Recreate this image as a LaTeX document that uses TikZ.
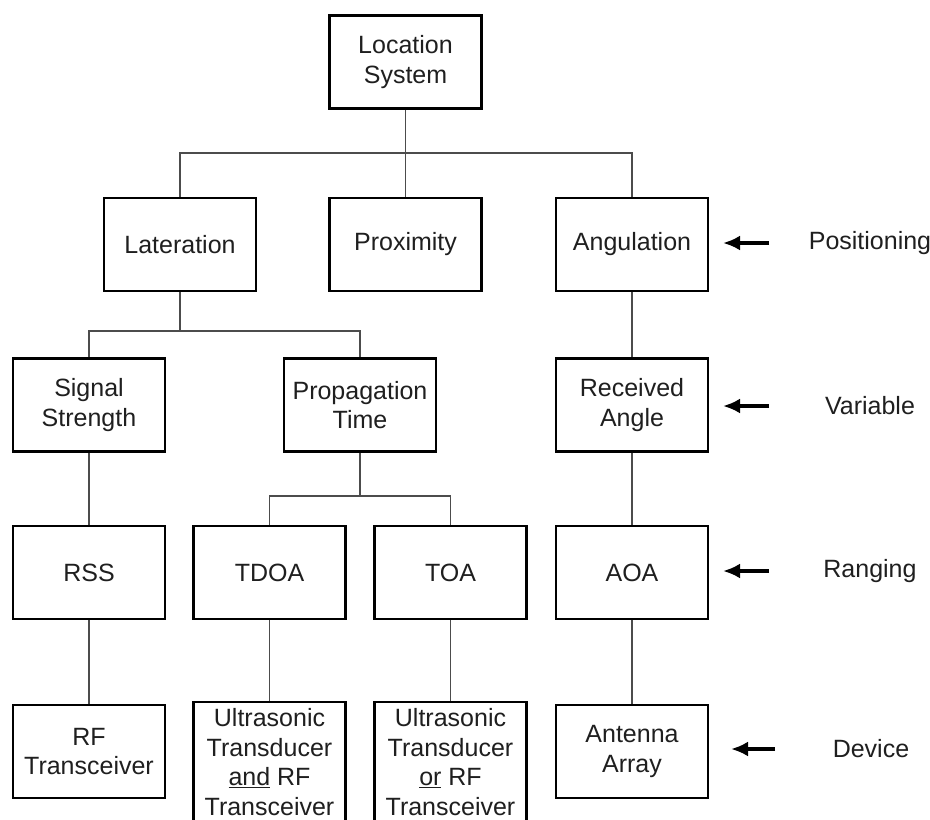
\documentclass[tikz,border=0pt]{standalone}
\usepackage{fontspec}
\setmainfont{Liberation Sans}
\usepackage{tikz}
\usetikzlibrary{arrows.meta, calc}
\definecolor{boxText}{rgb}{0.12, 0.12, 0.12}
\definecolor{linkGray}{rgb}{0.30, 0.30, 0.30}

\begin{document}
\begin{tikzpicture}[x=1pt, y=-1pt,
	box/.style={draw=black, line width=2.8pt, minimum width=152pt, minimum height=93pt, inner sep=0pt, align=center, text=boxText, font=\fontsize{25}{29.5}\selectfont},
	tallbox/.style={box, minimum height=120pt},
	link/.style={draw=linkGray, line width=1.4pt},
	pointer/.style={line width=3.4pt, -{Latex[length=17pt, width=15pt]}},
	level/.style={text=boxText, font=\fontsize{25}{29.5}\selectfont}]

	\clip (0,0) rectangle (930,820);
	\fill[white] (0,0) rectangle (930,820);

	\node[box] (loc) at (405.5,62) {Location\\System};

	\node[box] (lat) at (180,244.5) {Lateration};
	\node[box] (prox) at (405.5,244.5) {Proximity};
	\node[box] (ang) at (632,244.5) {Angulation};

	\node[box] (ss) at (89,405) {Signal\\Strength};
	\node[box] (pt) at (360,405) {Propagation\\Time};
	\node[box] (ra) at (632,405) {Received\\Angle};

	\node[box] (rss) at (89,572.5) {RSS};
	\node[box] (tdoa) at (269.5,572.5) {TDOA};
	\node[box] (toa) at (450.5,572.5) {TOA};
	\node[box] (aoa) at (632,572.5) {AOA};

	\node[box] (rf) at (89,751.5) {RF\\Transceiver};
	\node[tallbox] (utand) at (269.5,762) {Ultrasonic\\Transducer\\\underline{and} RF\\Transceiver};
	\node[tallbox] (utor) at (450.5,762) {Ultrasonic\\Transducer\\\underline{or} RF\\Transceiver};
	\node[box] (ant) at (632,751.5) {Antenna\\Array};

	\coordinate (top) at (405.5,153);
	\coordinate (latfork) at (180,331);
	\coordinate (ptfork) at (360,496);

	\draw[link] (loc.south) -- (prox.north);
	\draw[link] (lat.north) |- (top) -| (ang.north);
	\draw[link] (lat.south) -- (latfork);
	\draw[link] (ss.north) |- (latfork) -| (pt.north);
	\draw[link] (pt.south) -- (ptfork);
	\draw[link] (tdoa.north) |- (ptfork) -| (toa.north);
	\draw[link] (ang.south) -- (ra.north);
	\draw[link] (ra.south) -- (aoa.north);
	\draw[link] (aoa.south) -- (ant.north);
	\draw[link] (ss.south) -- (rss.north);
	\draw[link] (rss.south) -- (rf.north);
	\draw[link] (tdoa.south) -- (utand.north);
	\draw[link] (toa.south) -- (utor.north);

	\node[level] (pos) at (870,243) {Positioning};
	\node[level] (var) at (870,406) {Variable};
	\node[level] (rng) at (870,571) {Ranging};
	\node[level] (dev) at (871,749) {Device};

	\coordinate (posA) at (769,243);
	\coordinate (posB) at (723,243);
	\coordinate (varA) at (769,406);
	\coordinate (varB) at (723,406);
	\coordinate (rngA) at (769,571);
	\coordinate (rngB) at (723,571);
	\coordinate (devA) at (775,749);
	\coordinate (devB) at (731,749);

	\draw[pointer] (posA) -- (posB);
	\draw[pointer] (varA) -- (varB);
	\draw[pointer] (rngA) -- (rngB);
	\draw[pointer] (devA) -- (devB);

\end{tikzpicture}
\end{document}
